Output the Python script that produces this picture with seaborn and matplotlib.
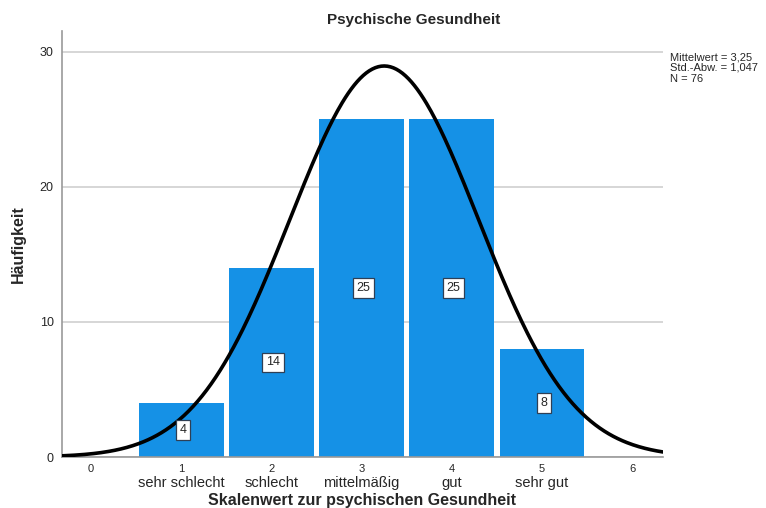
import numpy as np
import pandas as pd
import matplotlib
matplotlib.use("Agg")
import matplotlib.pyplot as plt
import seaborn as sns

values = [1, 2, 3, 4, 5]
counts = [4, 14, 25, 25, 8]
categories = ["sehr schlecht", "schlecht", "mittelmäßig", "gut", "sehr gut"]
tick_values = [0, 1, 2, 3, 4, 5, 6]
mean_val = 3.25
sd_val = 1.047
n_val = 76

sns.set_style("white")
plt.rcParams['font.family'] = ['Liberation Sans', 'DejaVu Sans']

fig = plt.figure(figsize=(7.66, 5.08), dpi=100)
ax = fig.add_axes([62/766, 1-457/508, (663-62)/766, (457-31)/508])

df = pd.DataFrame({"wert": values, "anzahl": counts})
sns.barplot(data=df, x="wert", y="anzahl", native_scale=True, width=0.94,
            color="#1591e6", saturation=1, linewidth=0,
            ax=ax, zorder=2)

xs = np.linspace(-0.32, 6.34, 400)
ys = n_val * 1.0 / (sd_val * np.sqrt(2*np.pi)) * np.exp(-0.5*((xs-mean_val)/sd_val)**2)
sns.lineplot(x=xs, y=ys, color="black", linewidth=2.6, ax=ax, zorder=4)

for v, c in zip(values, counts):
    ax.text(v + 0.02, c/2, str(c), ha="center", va="center", fontsize=9, zorder=5,
            bbox=dict(boxstyle="square,pad=0.3", fc="white", ec="#2e3f55", lw=0.9))

ax.set_xlim(-0.32, 6.34)
ax.set_ylim(0, 31.55)
ax.set_yticks([0, 10, 20, 30])
ax.set_xticks(tick_values)
ax.set_xticklabels([str(t) for t in tick_values], fontsize=8)
ax.tick_params(axis="y", labelsize=9, length=0, pad=6)
ax.tick_params(axis="x", length=0, pad=5)
ax.yaxis.grid(True, color="#d0d0d0", linewidth=1.2, zorder=0)
ax.set_axisbelow(True)
for s in ["top", "right"]:
    ax.spines[s].set_visible(False)
for s in ["left", "bottom"]:
    ax.spines[s].set_color("#999999")
    ax.spines[s].set_linewidth(1.2)

for v, cat in zip(values, categories):
    ax.text(v, -0.044, cat, transform=ax.get_xaxis_transform(), ha="center", va="top",
            fontsize=10.5)

ax.set_xlabel("Skalenwert zur psychischen Gesundheit", fontsize=11.5, fontweight="bold")
ax.xaxis.label.set_va("top")
ax.xaxis.set_label_coords(0.5, -0.085)
ax.set_ylabel("Häufigkeit", fontsize=11.5, fontweight="bold", labelpad=10)
ax.set_title("Psychische Gesundheit", fontsize=11, fontweight="bold", pad=5)
ax.title.set_position((0.585, 1.0))

fig.text(670/766, 1-52/508, "Mittelwert = 3,25\nStd.-Abw. = 1,047\nN = 76",
         ha="left", va="top", fontsize=8, linespacing=1.12)

fig.savefig("out.png", dpi=100)
